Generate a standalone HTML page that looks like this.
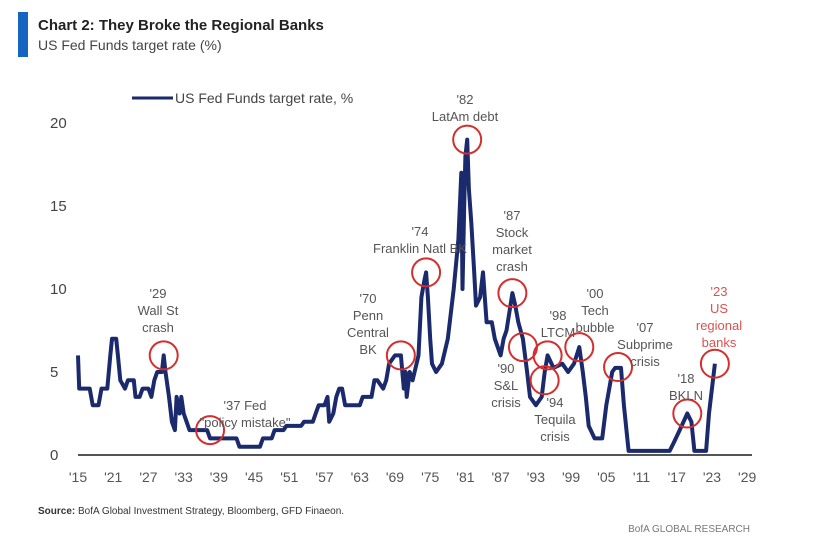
<!DOCTYPE html>
<html><head><meta charset="utf-8"><style>
body{margin:0;background:#fff;width:820px;height:546px;overflow:hidden;font-family:"Liberation Sans",sans-serif}
svg text{font-family:"Liberation Sans",sans-serif}
</style></head><body>
<svg id="c" width="820" height="546">
<rect x="18" y="12" width="10" height="45" fill="#1565c0"/>
<text x="38" y="30" font-size="15" font-weight="bold" fill="#222">Chart 2: They Broke the Regional Banks</text>
<text x="38" y="50" font-size="14" fill="#444">US Fed Funds target rate (%)</text>
<line x1="132" y1="98" x2="173" y2="98" stroke="#1a2a6c" stroke-width="3"/>
<text x="175" y="103" font-size="14" fill="#444">US Fed Funds target rate, %</text>
<g id="yt"></g><g id="xt"></g>
<line x1="78" y1="455" x2="752" y2="455" stroke="#555" stroke-width="2"/>
<path id="ln" fill="none" stroke="#1a2a6c" stroke-width="4" stroke-linejoin="round"/>
<g id="ann" font-size="13" fill="#555" text-anchor="middle"></g>
<text x="38" y="514" font-size="10" fill="#333"><tspan font-weight="bold">Source:</tspan>  BofA Global Investment Strategy, Bloomberg, GFD Finaeon.</text>
<text x="750" y="532" font-size="10" fill="#777" text-anchor="end">BofA GLOBAL RESEARCH</text>
</svg>
<script>
const years=[1915,1915.2,1917,1917.5,1918.5,1919,1920,1920.5,1920.8,1921.5,1921.8,1922.2,1923,1923.5,1924.5,1924.8,1925.5,1926,1927,1927.5,1928,1928.5,1929.3,1929.6,1929.9,1930.5,1931,1931.5,1931.8,1932.3,1932.6,1933,1933.5,1934,1937,1937.5,1942,1942.5,1946,1946.5,1948,1948.5,1950,1950.5,1953,1953.5,1955,1955.5,1956,1957,1957.5,1957.8,1958.5,1959,1959.5,1960,1960.5,1963,1963.5,1965,1965.5,1966,1967,1967.5,1968,1969,1970,1970.5,1970.8,1971,1971.5,1972,1973,1973.5,1974,1974.3,1974.6,1975,1975.3,1976,1977,1978,1979,1979.8,1980.3,1980.5,1980.8,1981,1981.3,1981.6,1982,1982.5,1982.8,1983.5,1984,1984.6,1985.5,1986,1987,1987.5,1988,1989,1989.5,1990,1990.8,1991.5,1992,1993,1994,1994.5,1995,1996,1997.5,1998.5,1999.5,2000.4,2001,2001.5,2002,2003,2004.3,2005,2006,2006.5,2007.5,2008,2008.8,2015.8,2016.5,2017.5,2018.8,2019.5,2020,2022,2022.5,2023.5];
const rates=[6,4,4,3,3,4,4,6,7,7,6,4.5,4,4.5,4.5,3.5,3.5,4,4,3.5,4.5,5,5,6,5,3.5,2,1.5,3.5,2.5,3.5,2.5,2,1.5,1.5,1,1,0.5,0.5,1,1,1.5,1.5,1.75,1.75,2,2,2.5,3,3,3.5,2,2.5,3.5,4,4,3,3,3.5,3.5,4.5,4.5,4,4.5,5.5,6,6,4,5,3.5,5,4.5,6,9.5,10.5,11,9.5,7,5.5,5,5.5,7,10,13,17,10,15,18,19,16,14,11,9,9.5,11,8,8,7,6,7,7.5,9.75,9,8,7,5,3.5,3,3.5,5,6,5.25,5.5,5,5.5,6.5,5,3.5,1.75,1,1,3,5,5.25,5.25,3,0.25,0.25,0.75,1.5,2.5,2,0.25,0.25,2.5,5.5];
const yTicks=[0,5,10,15,20];
const xTicks=[1915,1921,1927,1933,1939,1945,1951,1957,1963,1969,1975,1981,1987,1993,1999,2005,2011,2017,2023,2029];
const annYears=[1929.6,1937.5,1970,1974.3,1981.3,1989,1990.8,1994.5,1995,2000.4,2007,2018.8,2023.5];
const annVals=[6,1.5,6,11,19,9.75,6.5,4.5,6,6.5,5.3,2.5,5.5];
const annText=[["'29","Wall St","crash"],["'37 Fed","\"policy mistake\""],["'70","Penn","Central","BK"],["'74","Franklin Natl BK"],["'82","LatAm debt"],["'87","Stock","market","crash"],["'90","S&L","crisis"],["'94","Tequila","crisis"],["'98","LTCM"],["'00","Tech","bubble"],["'07","Subprime","crisis"],["'18","BKLN"],["'23","US","regional","banks"]];
const annPos=[[158,298],[245,410],[368,303],[420,236],[465,104],[512,220],[506,373],[555,407],[558,320],[595,298],[645,332],[686,383],[719,296]];
const X=y=>78+(y-1915)*5.87, Y=v=>455-v*16.6;
const ns="http://www.w3.org/2000/svg";
function mk(t,a,p){const e=document.createElementNS(ns,t);for(const k in a)e.setAttribute(k,a[k]);p.appendChild(e);return e;}
const yt=document.getElementById('yt'),xt=document.getElementById('xt'),ann=document.getElementById('ann');
yTicks.forEach(v=>{const t=mk('text',{x:50,y:Y(v)+5,'font-size':15,fill:'#444'},yt);t.textContent=v;

});
xTicks.forEach(v=>{const t=mk('text',{x:X(v),y:482,'font-size':14,fill:'#555','text-anchor':'middle'},xt);t.textContent="'"+String(v).slice(2);

});
document.getElementById('ln').setAttribute('d',years.map((y,i)=>(i?'L':'M')+X(y).toFixed(1)+','+Y(rates[i]).toFixed(1)).join(''));
annYears.forEach((y,i)=>{const red=i===12;
const c=mk('ellipse',{cx:X(y),cy:Y(annVals[i]),rx:14,ry:14,fill:'none',stroke:'#d32f2f','stroke-width':2},ann);


const t=mk('text',{x:annPos[i][0],y:annPos[i][1],fill:red?'#d9534f':'#555'},ann);


annText[i].forEach((s,j)=>{const ts=mk('tspan',{x:annPos[i][0],dy:j?17:0},t);ts.textContent=s;});});
</script>
</body></html>
